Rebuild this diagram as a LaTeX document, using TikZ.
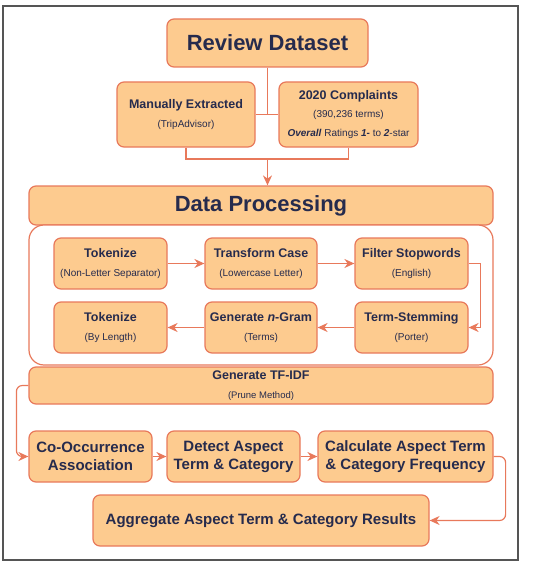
\documentclass[tikz,border=0pt]{standalone}
\usepackage{fontspec}
\setmainfont{Liberation Sans}
\usepackage{xcolor}
\usetikzlibrary{arrows.meta,positioning,calc}
\definecolor{boxfill}{HTML}{FDCB8F}
\definecolor{boxedge}{HTML}{E8795B}
\definecolor{inktext}{HTML}{262B4D}
\definecolor{framegray}{HTML}{555555}
\newcommand{\headfont}{\fontsize{22}{26}\selectfont\bfseries}
\newcommand{\midfont}{\fontsize{12.5}{19}\selectfont\bfseries}
\newcommand{\subfont}{\fontsize{10}{19}\selectfont}
\newcommand{\lowfont}{\fontsize{15}{18}\selectfont\bfseries}

\begin{document}
\begin{tikzpicture}[x=1pt,y=-1pt,
		stepbox/.style={draw=boxedge,fill=boxfill,line width=1.2pt,rounded corners=7pt,
			align=center,text=inktext,inner sep=0pt,font=\subfont},
		link/.style={draw=boxedge,line width=1.2pt},
		arr/.style={link,-{Stealth[length=10pt,width=9pt]}}]
		
		\useasboundingbox (0,0) rectangle (535,567);
		\draw[framegray,line width=1.5pt] (3,6) rectangle (518,560);
		
		\node[stepbox,minimum width=201pt,minimum height=48pt] (review)
		at (267.5,43)
		{{\headfont Review Dataset}};
		
		\node[stepbox,minimum width=138pt,minimum height=65pt] (manual)
		at (186,114.5)
		{{\midfont Manually Extracted}\\(TripAdvisor)};
		
		\node[stepbox,minimum width=139pt,minimum height=65pt,font=\fontsize{10}{18.5}\selectfont] (complaints)
		at (348.5,114.5)
		{{\midfont 2020 Complaints}\\(390,236 terms)\\\textbf{\textit{Overall}} Ratings \textbf{\textit{1-}} to \textbf{\textit{2}}-star};
		
		\node[stepbox,minimum width=464pt,minimum height=39pt] (dataproc)
		at (261,205.5)
		{{\headfont Data Processing}};
		
		\node[draw=boxedge,fill=white,line width=1.2pt,rounded corners=15pt,
			minimum width=464pt,minimum height=140pt] (inner)
		at (261,295) {};
		
		\node[stepbox,minimum width=113pt,minimum height=51pt] (tokA)
		at (110.5,263.5)
		{{\midfont Tokenize}\\(Non-Letter Separator)};
		
		\node[stepbox,minimum width=112pt,minimum height=51pt] (lower)
		at (261,263.5)
		{{\midfont Transform Case}\\(Lowercase Letter)};
		
		\node[stepbox,minimum width=113pt,minimum height=51pt] (stop)
		at (411.5,263.5)
		{{\midfont Filter Stopwords}\\(English)};
		
		\node[stepbox,minimum width=113pt,minimum height=51pt] (stem)
		at (411.5,327.5)
		{{\midfont Term-Stemming}\\(Porter)};
		
		\node[stepbox,minimum width=112pt,minimum height=51pt] (ngram)
		at (261,327.5)
		{{\midfont Generate \textit{n}-Gram}\\(Terms)};
		
		\node[stepbox,minimum width=113pt,minimum height=51pt] (tokB)
		at (110.5,327.5)
		{{\midfont Tokenize}\\(By Length)};
		
		\node[stepbox,minimum width=464pt,minimum height=37pt,font=\fontsize{9.5}{19}\selectfont] (tfidf)
		at (261,385.5)
		{{\midfont Generate TF-IDF}\\(Prune Method)};
		
		\node[stepbox,minimum width=123pt,minimum height=51pt,font=\lowfont] (cooc)
		at (90.5,456.5)
		{Co-Occurrence\\Association};
		
		\node[stepbox,minimum width=133pt,minimum height=51pt,font=\lowfont] (detect)
		at (233.5,456.5)
		{Detect Aspect\\Term \& Category};
		
		\node[stepbox,minimum width=175pt,minimum height=51pt,font=\lowfont] (calc)
		at (405.5,456.5)
		{Calculate Aspect Term\\\& Category Frequency};
		
		\node[stepbox,minimum width=336pt,minimum height=51pt,font=\lowfont] (agg)
		at (261,520.5)
		{Aggregate Aspect Term \& Category Results};
		
		\coordinate (join) at (267.5,159);
		
		\draw[link] (review.south) -- (review.south |- manual.east);
		\draw[link] (manual.east) -- (complaints.west);
		\draw[link] (manual.south) |- (join) -| (complaints.south);
		\draw[arr] (join) -- (join |- dataproc.north);
		
		\draw[arr] (tokA) -- (lower);
		\draw[arr] (lower) -- (stop);
		\draw[arr] (stop.east) -- ++(12,0) |- (stem.east);
		\draw[arr] (stem) -- (ngram);
		\draw[arr] (ngram) -- (tokB);
		
		\draw[arr,rounded corners=6pt] (tfidf.west) -- ++(-12,0) |- (cooc.west);
		\draw[arr] (cooc) -- (detect);
		\draw[arr] (detect) -- (calc);
		\draw[arr,rounded corners=6pt] (calc.east) -- ++(12,0) |- (agg.east);
		
	\end{tikzpicture}
\end{document}
